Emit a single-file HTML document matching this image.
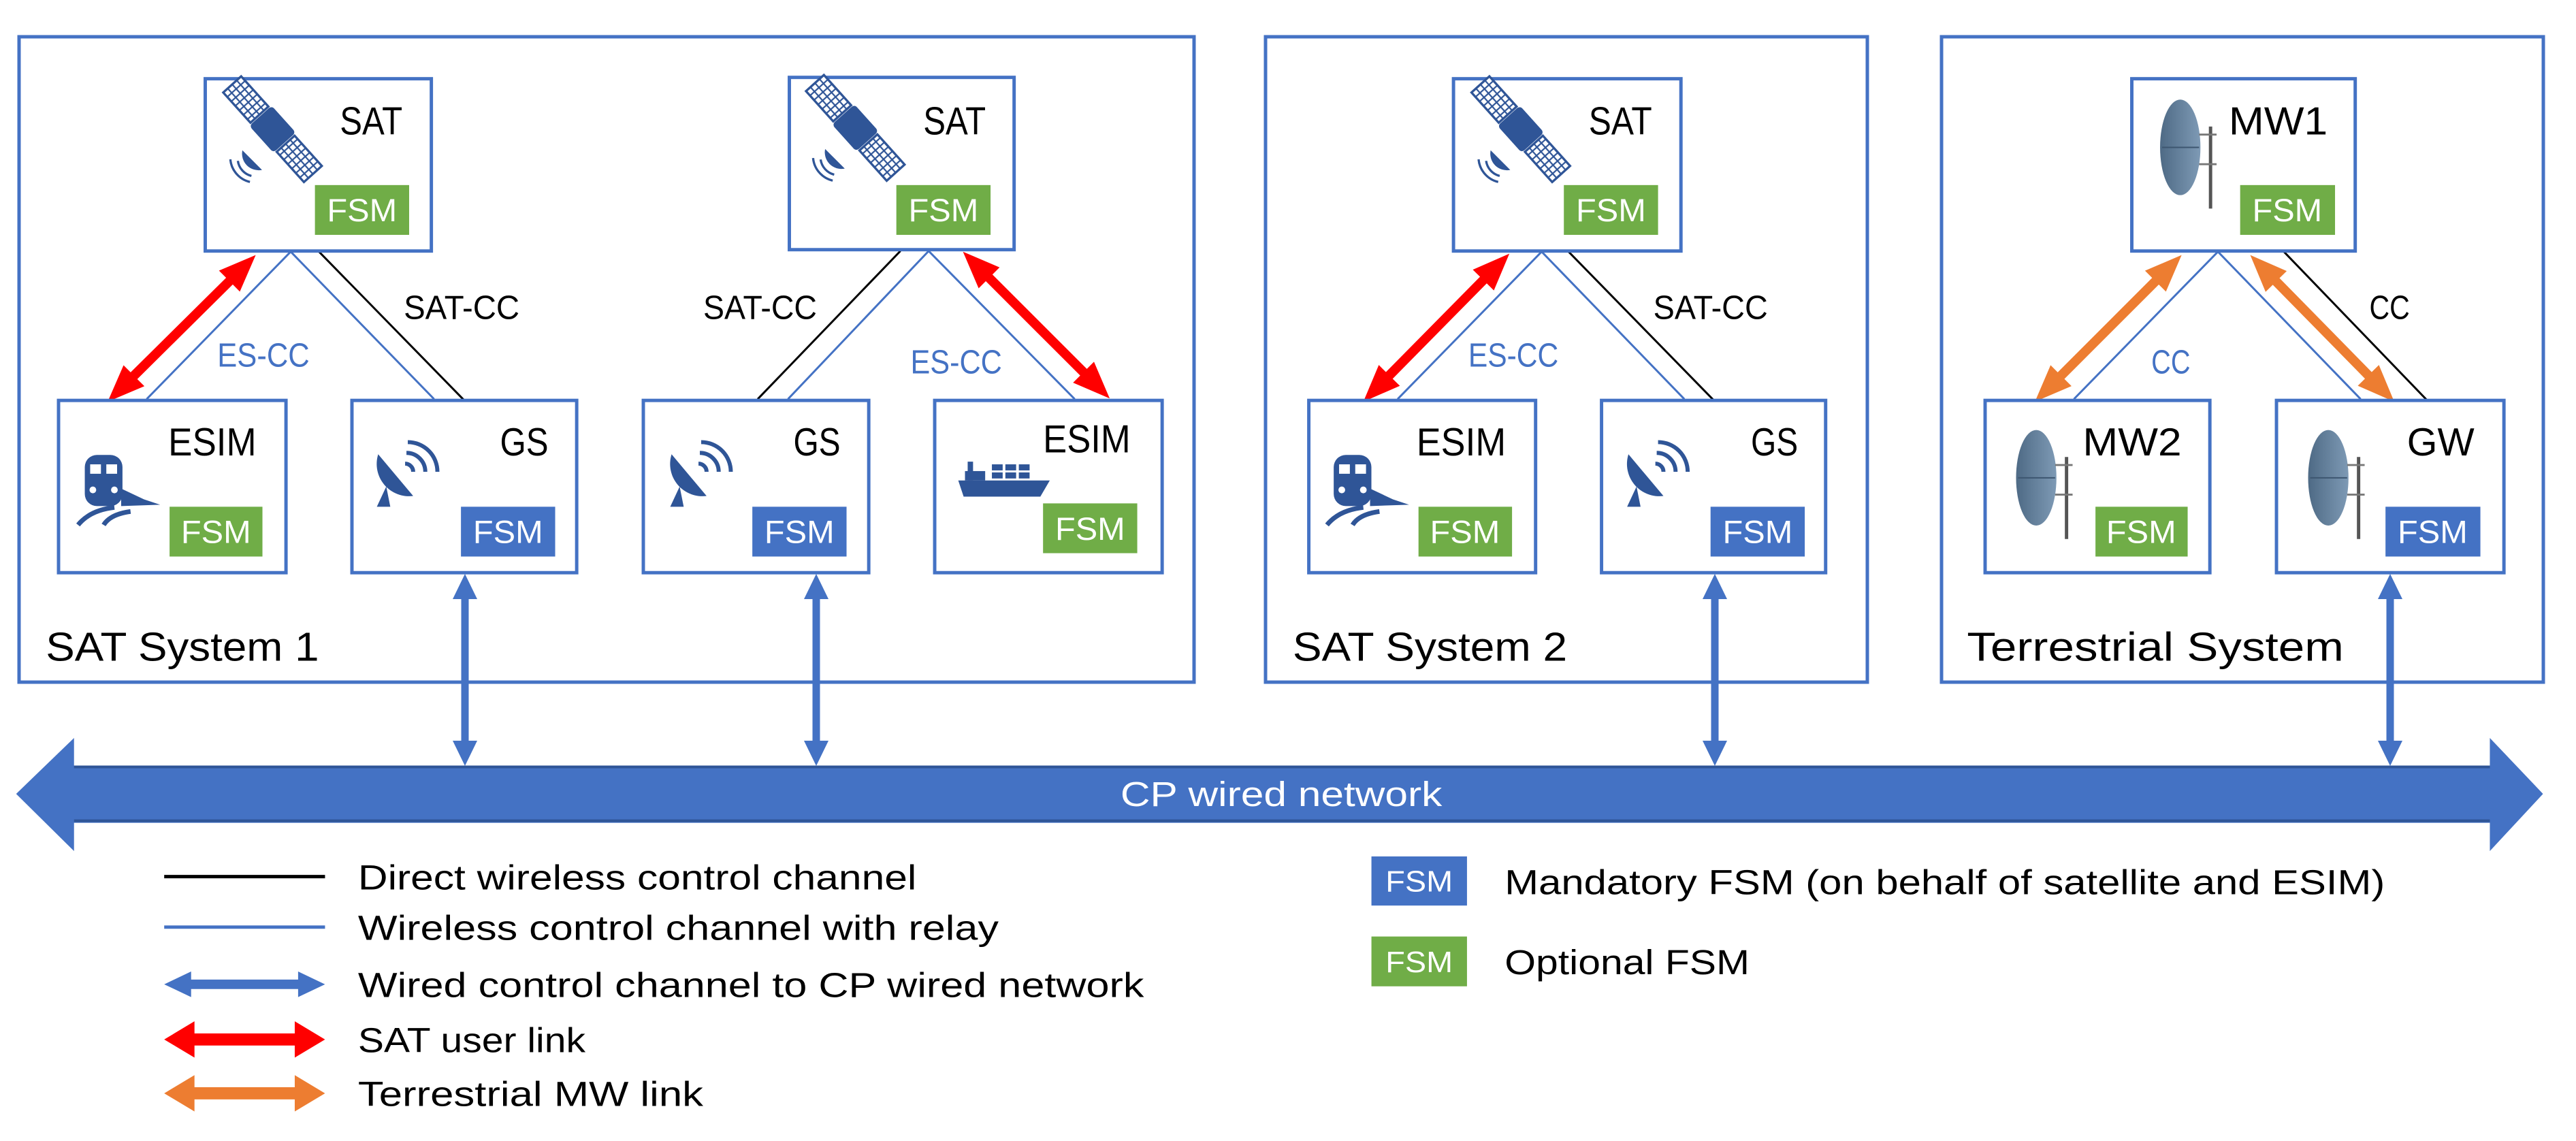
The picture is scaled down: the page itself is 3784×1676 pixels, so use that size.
<!DOCTYPE html>
<html><head><meta charset="utf-8"><style>
html,body{margin:0;padding:0;background:#fff}
svg{display:block}
text{font-family:"Liberation Sans",sans-serif}
</style></head><body>
<svg id="s" width="3784" height="1676" viewBox="0 0 3784 1676" xmlns="http://www.w3.org/2000/svg">
<defs>
<pattern id="grid" width="8" height="8" patternUnits="userSpaceOnUse">
<rect width="8" height="8" fill="#fff" stroke="#2F5597" stroke-width="2"/>
</pattern>
<linearGradient id="dg" x1="0" x2="1" y1="0" y2="0"><stop offset="0" stop-color="#4E6A85"/><stop offset="1" stop-color="#7E9AB5"/></linearGradient>
<g id="sat">
<g transform="scale(1.12)">
<g transform="rotate(48)">
<rect x="-80" y="-16" width="54" height="32" fill="url(#grid)" stroke="#2F5597" stroke-width="3"/>
<rect x="26" y="-16" width="54" height="32" fill="url(#grid)" stroke="#2F5597" stroke-width="3"/>
<rect x="-24" y="-20" width="48" height="40" rx="5" fill="#2F5597"/>
</g>
<path d="M-40,28 a22,22 0 0 0 26,26 z" fill="#2F5597"/>
<path d="M-46,42 a24,24 0 0 0 18,20" fill="none" stroke="#2F5597" stroke-width="3"/>
<path d="M-56,40 a34,34 0 0 0 26,30" fill="none" stroke="#2F5597" stroke-width="3"/>
</g>
</g>
<g id="train">
<rect x="12" y="0" width="56" height="76" rx="18" fill="#2F5597"/>
<rect x="20" y="14" width="16" height="14" fill="#fff"/><rect x="44" y="14" width="16" height="14" fill="#fff"/>
<circle cx="24" cy="52" r="5" fill="#fff"/><circle cx="56" cy="52" r="5" fill="#fff"/>
<path d="M66,50 L100,66 L124,74 L66,76 Z" fill="#2F5597"/>
<path d="M2,104 Q20,82 56,78" fill="none" stroke="#2F5597" stroke-width="7"/>
<path d="M40,104 Q50,88 80,84" fill="none" stroke="#2F5597" stroke-width="7"/>
</g>
<g id="dish">
<path d="M10,30 A48,48 0 0 0 62,92 Z" fill="#2F5597"/>
<polygon points="8,108 22,78 28,108" fill="#2F5597"/>
<path d="M50,44 a12,12 0 0 1 12,12" fill="none" stroke="#2F5597" stroke-width="6"/>
<path d="M52,28 a28,28 0 0 1 28,28" fill="none" stroke="#2F5597" stroke-width="6"/>
<path d="M54,12 a44,44 0 0 1 44,44" fill="none" stroke="#2F5597" stroke-width="6"/>
</g>
<g id="ship">
<path d="M0,34 L136,34 L122,58 L8,58 Z" fill="#2F5597"/>
<rect x="14" y="6" width="8" height="28" fill="#2F5597"/><rect x="10" y="20" width="30" height="14" fill="#2F5597"/>
<g fill="#2F5597">
<rect x="50" y="10" width="16" height="9"/><rect x="70" y="10" width="16" height="9"/><rect x="90" y="10" width="16" height="9"/>
<rect x="50" y="22" width="16" height="9"/><rect x="70" y="22" width="16" height="9"/><rect x="90" y="22" width="16" height="9"/>
</g>
</g>
<g id="mw">
<ellipse cx="32" cy="71" rx="30" ry="71" fill="url(#dg)"/>
<line x1="5" y1="71" x2="60" y2="71" stroke="#3D5670" stroke-width="2"/>
<line x1="77" y1="40" x2="77" y2="162" stroke="#555" stroke-width="5"/>
<line x1="60" y1="52" x2="86" y2="52" stroke="#777" stroke-width="3"/>
<line x1="60" y1="96" x2="86" y2="96" stroke="#777" stroke-width="3"/>
</g>
</defs>

<!-- system boxes -->
<g fill="none" stroke="#4472C4" stroke-width="5">
<rect x="28" y="54" width="1726" height="948"/>
<rect x="1859" y="54" width="884" height="948"/>
<rect x="2852" y="54" width="884" height="948"/>
</g>

<!-- ===== Group 1 (SAT System 1) ===== -->
<g transform="scale(0.9885)">
<g stroke-width="3" fill="none">
<line x1="432" y1="374" x2="218" y2="593" stroke="#4472C4"/>
<line x1="432" y1="374" x2="645" y2="593" stroke="#4472C4"/>
<line x1="474" y1="374" x2="690" y2="595" stroke="#000"/>
<line x1="1338" y1="373" x2="1126" y2="593" stroke="#000"/>
<line x1="1380" y1="373" x2="1171" y2="593" stroke="#4472C4"/>
<line x1="1380" y1="373" x2="1597" y2="593" stroke="#4472C4"/>
</g>
<g id="ar1"></g>
<g fill="#fff" stroke="#4472C4" stroke-width="5">
<rect x="305" y="117" width="336" height="256"/>
<rect x="87" y="595" width="338" height="256"/>
<rect x="523" y="595" width="334" height="256"/>
<rect x="1173" y="115" width="334" height="256"/>
<rect x="956" y="595" width="335" height="256"/>
<rect x="1389" y="595" width="338" height="256"/>
</g>
<use href="#sat" transform="translate(405,192)"/>
<use href="#sat" transform="translate(1271,190)"/>
<use href="#train" transform="translate(114,676)"/>
<use href="#dish" transform="translate(552,645)"/>
<use href="#dish" transform="translate(988,645)"/>
<use href="#ship" transform="translate(1424,680)"/>
<rect x="468" y="275" width="140" height="74" fill="#70AD47"/>
<rect x="252" y="753" width="138" height="74" fill="#70AD47"/>
<rect x="685" y="753" width="140" height="74" fill="#4472C4"/>
<rect x="1332" y="275" width="140" height="74" fill="#70AD47"/>
<rect x="1118" y="753" width="140" height="74" fill="#4472C4"/>
<rect x="1550" y="748" width="140" height="74" fill="#70AD47"/>
<g fill="#fff" font-size="48" text-anchor="middle">
<text x="538" y="329" textLength="104" lengthAdjust="spacingAndGlyphs">FSM</text>
<text x="321" y="807" textLength="104" lengthAdjust="spacingAndGlyphs">FSM</text>
<text x="755" y="807" textLength="104" lengthAdjust="spacingAndGlyphs">FSM</text>
<text x="1402" y="329" textLength="104" lengthAdjust="spacingAndGlyphs">FSM</text>
<text x="1188" y="807" textLength="104" lengthAdjust="spacingAndGlyphs">FSM</text>
<text x="1620" y="802" textLength="104" lengthAdjust="spacingAndGlyphs">FSM</text>
</g>
<g fill="#000" font-size="58">
<text x="505" y="200" textLength="93" lengthAdjust="spacingAndGlyphs">SAT</text>
<text x="250" y="677" textLength="131" lengthAdjust="spacingAndGlyphs">ESIM</text>
<text x="743" y="677" textLength="72" lengthAdjust="spacingAndGlyphs">GS</text>
<text x="1372" y="200" textLength="93" lengthAdjust="spacingAndGlyphs">SAT</text>
<text x="1179" y="677" textLength="70" lengthAdjust="spacingAndGlyphs">GS</text>
<text x="1550" y="672" textLength="130" lengthAdjust="spacingAndGlyphs">ESIM</text>
</g>
<g font-size="50">
<text x="600" y="474" textLength="172" lengthAdjust="spacingAndGlyphs">SAT-CC</text>
<text x="323" y="545" fill="#4472C4" textLength="137" lengthAdjust="spacingAndGlyphs">ES-CC</text>
<text x="1045" y="474" textLength="169" lengthAdjust="spacingAndGlyphs">SAT-CC</text>
<text x="1353" y="555" fill="#4472C4" textLength="136" lengthAdjust="spacingAndGlyphs">ES-CC</text>
</g>
<text x="68" y="982" font-size="60" textLength="406" lengthAdjust="spacingAndGlyphs">SAT System 1</text>
</g>

<!-- ===== Group 2 (SAT System 2 + Terrestrial) ===== -->
<g transform="translate(20.7,0) scale(0.9885)">
<g stroke-width="3" fill="none">
<line x1="2270" y1="374" x2="2056" y2="593" stroke="#4472C4"/>
<line x1="2270" y1="374" x2="2482" y2="593" stroke="#4472C4"/>
<line x1="2309" y1="373" x2="2526" y2="595" stroke="#000"/>
<line x1="3275" y1="374" x2="3061" y2="593" stroke="#4472C4"/>
<line x1="3275" y1="374" x2="3487" y2="593" stroke="#4472C4"/>
<line x1="3372" y1="373" x2="3586" y2="595" stroke="#000"/>
</g>
<g id="ar2"></g>
<g fill="#fff" stroke="#4472C4" stroke-width="5">
<rect x="2139" y="117" width="338" height="256"/>
<rect x="1924" y="595" width="337" height="256"/>
<rect x="2359" y="595" width="333" height="256"/>
<rect x="3147" y="117" width="332" height="256"/>
<rect x="2929" y="595" width="334" height="256"/>
<rect x="3362" y="595" width="338" height="256"/>
</g>
<use href="#sat" transform="translate(2239,192)"/>
<use href="#train" transform="translate(1949,676)"/>
<use href="#dish" transform="translate(2389,645)"/>
<use href="#mw" transform="translate(3187,148)"/>
<use href="#mw" transform="translate(2973,639)"/>
<use href="#mw" transform="translate(3407,639)"/>
<rect x="2303" y="275" width="140" height="74" fill="#70AD47"/>
<rect x="2087" y="753" width="139" height="74" fill="#70AD47"/>
<rect x="2521" y="753" width="140" height="74" fill="#4472C4"/>
<rect x="3308" y="275" width="141" height="74" fill="#70AD47"/>
<rect x="3093" y="753" width="137" height="74" fill="#70AD47"/>
<rect x="3524" y="753" width="141" height="74" fill="#4472C4"/>
<g fill="#fff" font-size="48" text-anchor="middle">
<text x="2373" y="329" textLength="104" lengthAdjust="spacingAndGlyphs">FSM</text>
<text x="2156" y="807" textLength="104" lengthAdjust="spacingAndGlyphs">FSM</text>
<text x="2591" y="807" textLength="104" lengthAdjust="spacingAndGlyphs">FSM</text>
<text x="3378" y="329" textLength="104" lengthAdjust="spacingAndGlyphs">FSM</text>
<text x="3161" y="807" textLength="104" lengthAdjust="spacingAndGlyphs">FSM</text>
<text x="3594" y="807" textLength="104" lengthAdjust="spacingAndGlyphs">FSM</text>
</g>
<g fill="#000" font-size="58">
<text x="2340" y="200" textLength="94" lengthAdjust="spacingAndGlyphs">SAT</text>
<text x="2084" y="677" textLength="133" lengthAdjust="spacingAndGlyphs">ESIM</text>
<text x="2581" y="677" textLength="70" lengthAdjust="spacingAndGlyphs">GS</text>
<text x="3291" y="200" textLength="147" lengthAdjust="spacingAndGlyphs">MW1</text>
<text x="3074" y="677" textLength="147" lengthAdjust="spacingAndGlyphs">MW2</text>
<text x="3556" y="677" textLength="100" lengthAdjust="spacingAndGlyphs">GW</text>
</g>
<g font-size="50">
<text x="2436" y="474" textLength="170" lengthAdjust="spacingAndGlyphs">SAT-CC</text>
<text x="2161" y="545" fill="#4472C4" textLength="134" lengthAdjust="spacingAndGlyphs">ES-CC</text>
<text x="3500" y="474" textLength="60" lengthAdjust="spacingAndGlyphs">CC</text>
<text x="3176" y="555" fill="#4472C4" textLength="58" lengthAdjust="spacingAndGlyphs">CC</text>
</g>
<g font-size="60">
<text x="1900" y="982" textLength="408" lengthAdjust="spacingAndGlyphs">SAT System 2</text>
<text x="2902" y="982" textLength="560" lengthAdjust="spacingAndGlyphs">Terrestrial System</text>
</g>
</g>

<!-- ===== Group 3 (CP network + legend) ===== -->
<g id="g3" transform="translate(0,11.5) scale(0.9885)">
<polygon points="24,1168 110,1085 110,1126 3700,1126 3700,1085 3779,1168 3700,1253 3700,1211 110,1211 110,1253" fill="#4472C4"/>
<line x1="110" y1="1128" x2="3700" y2="1128" stroke="#2F5597" stroke-width="4"/>
<line x1="110" y1="1208" x2="3700" y2="1208" stroke="#2F5597" stroke-width="4"/>
<text x="1904" y="1186" font-size="52" fill="#fff" text-anchor="middle" textLength="478" lengthAdjust="spacingAndGlyphs">CP wired network</text>
<line x1="244" y1="1291" x2="483" y2="1291" stroke="#000" stroke-width="5"/>
<line x1="244" y1="1366" x2="483" y2="1366" stroke="#4472C4" stroke-width="5"/>
<g font-size="52">
<text x="532" y="1310" textLength="830" lengthAdjust="spacingAndGlyphs">Direct wireless control channel</text>
<text x="532" y="1385" textLength="952" lengthAdjust="spacingAndGlyphs">Wireless control channel with relay</text>
<text x="532" y="1470" textLength="1168" lengthAdjust="spacingAndGlyphs">Wired control channel to CP wired network</text>
<text x="532" y="1552" textLength="338" lengthAdjust="spacingAndGlyphs">SAT user link</text>
<text x="532" y="1632" textLength="513" lengthAdjust="spacingAndGlyphs">Terrestrial MW link</text>
<text x="2236" y="1317" textLength="1308" lengthAdjust="spacingAndGlyphs">Mandatory FSM (on behalf of satellite and ESIM)</text>
<text x="2236" y="1436" textLength="364" lengthAdjust="spacingAndGlyphs">Optional FSM</text>
</g>
<rect x="2038" y="1261" width="142" height="73" fill="#4472C4"/>
<rect x="2038" y="1380" width="142" height="74" fill="#70AD47"/>
<text x="2109" y="1313" font-size="44" fill="#fff" text-anchor="middle" textLength="100" lengthAdjust="spacingAndGlyphs">FSM</text>
<text x="2109" y="1433" font-size="44" fill="#fff" text-anchor="middle" textLength="100" lengthAdjust="spacingAndGlyphs">FSM</text>
</g>
<g id="ar0"></g>
</svg>
<script>
(function(){
function dbl(x1,y1,x2,y2,w,hl,hw,c,pid){
 var dx=x2-x1,dy=y2-y1,L=Math.sqrt(dx*dx+dy*dy),ux=dx/L,uy=dy/L,nx=-uy,ny=ux;
 var b1=[x1+ux*hl,y1+uy*hl],b2=[x2-ux*hl,y2-uy*hl];
 function p(b,s){return (b[0]+nx*s).toFixed(1)+','+(b[1]+ny*s).toFixed(1);}
 var pts=[x1+','+y1,p(b1,hw/2),p(b1,w/2),p(b2,w/2),p(b2,hw/2),x2+','+y2,p(b2,-hw/2),p(b2,-w/2),p(b1,-w/2),p(b1,-hw/2)];
 var e=document.createElementNS('http://www.w3.org/2000/svg','polygon');
 e.setAttribute('points',pts.join(' '));e.setAttribute('fill',c);
 document.getElementById(pid).appendChild(e);
}
var R='#FF0000',O='#ED7D31',B='#4472C4';
dbl(380,379,160,597,14,55,44,R,'ar1');
dbl(1431,374,1649,592,14,55,44,R,'ar1');
dbl(2222,377,2005,597,14,55,44,R,'ar2');
dbl(3221,379,3003,597,14,55,44,O,'ar2');
dbl(3323,379,3537,597,14,55,44,O,'ar2');
dbl(683,843,683,1125,11,37,36,B,'ar0');
dbl(1199,843,1199,1125,11,37,36,B,'ar0');
dbl(2519,843,2519,1125,11,37,36,B,'ar0');
dbl(3511,843,3511,1125,11,37,36,B,'ar0');
dbl(244,1451,483,1451,14,40,38,B,'g3');
dbl(244,1533,483,1533,18,45,54,R,'g3');
dbl(244,1613,483,1613,18,45,54,O,'g3');
})();
</script>
</body></html>
